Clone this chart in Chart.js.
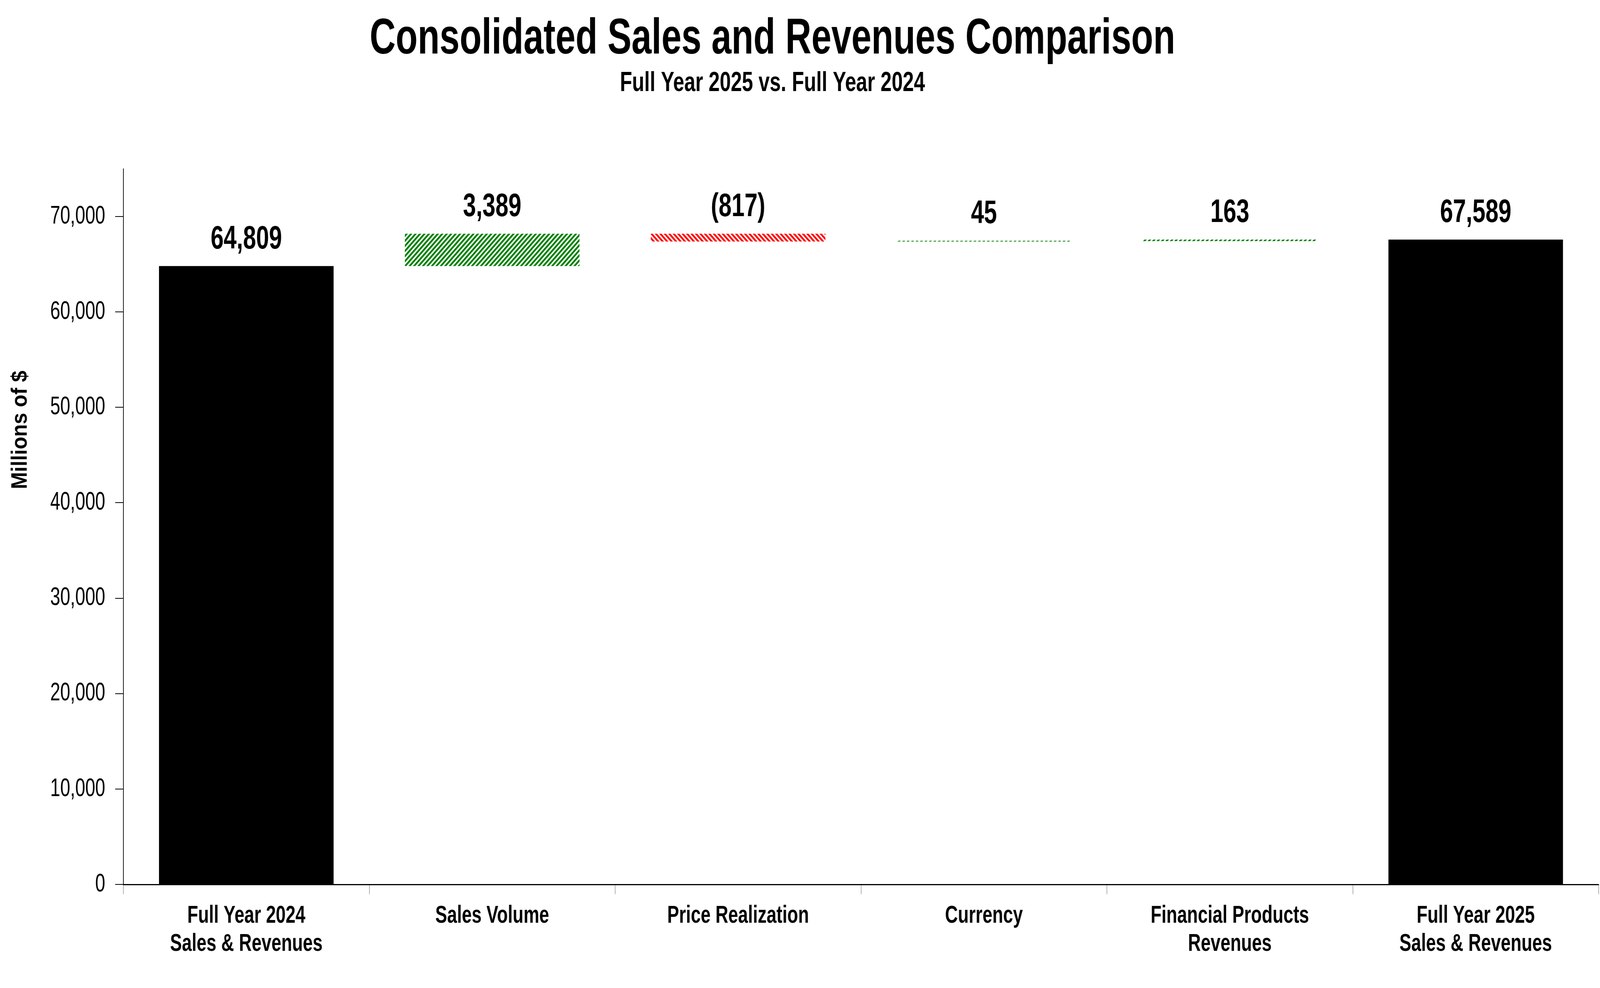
<!DOCTYPE html>
<html>
<head>
<meta charset="utf-8">
<script src="https://cdn.jsdelivr.net/npm/chart.js@4.4.1/dist/chart.umd.min.js"></script>
<style>
  html, body { margin: 0; padding: 0; background: #ffffff; overflow: hidden; }
  #c { display: block; }
</style>
</head>
<body>
<canvas id="c" width="4669" height="2528"></canvas>
<script>
// ---- Data ----
const categories = [
  ['Full Year 2024', 'Sales & Revenues'],
  ['Sales Volume'],
  ['Price Realization'],
  ['Currency'],
  ['Financial Products', 'Revenues'],
  ['Full Year 2025', 'Sales & Revenues']
];
const startValue = 64809;
const changes = [3389, -817, 45, 163];
const endValue = 67589;
const valueLabels = ['64,809', '3,389', '(817)', '45', '163', '67,589'];
const yTicks = [0, 10000, 20000, 30000, 40000, 50000, 60000, 70000];
const titleText = 'Consolidated Sales and Revenues Comparison';
const subtitleText = 'Full Year 2025 vs. Full Year 2024';
const yAxisTitle = 'Millions of $';

// ---- Build floating bar ranges ----
const ranges = [[0, startValue]];
let running = startValue;
changes.forEach(c => {
  const next = running + c;
  ranges.push([Math.min(running, next), Math.max(running, next)]);
  running = next;
});
ranges.push([0, endValue]);

const W = 4669, H = 2528;
const FONT = '"Liberation Sans", Arial, sans-serif';
const NARROW = 0.82;

const canvas = document.getElementById('c');

function hatch(color, upward) {
  const s = 13, w = 7;
  const t = document.createElement('canvas');
  t.width = s; t.height = s;
  const g = t.getContext('2d');
  g.fillStyle = color;
  for (let y = 0; y < s; y++) {
    for (let x = 0; x < s; x++) {
      const k = upward ? (x + y) % s : ((x - y) % s + s) % s;
      if (k < w) g.fillRect(x, y, 1, 1);
    }
  }
  return canvas.getContext('2d').createPattern(t, 'repeat');
}
const greenHatch = hatch('#008000', true);
const redHatch = hatch('#ff0000', false);

const colors = ranges.map((r, i) => {
  if (i === 0 || i === ranges.length - 1) return '#000000';
  return changes[i - 1] < 0 ? redHatch : greenHatch;
});

function drawText(ctx, text, x, y, size, bold, align, baseline, rotate) {
  ctx.save();
  ctx.translate(x, y);
  if (rotate) ctx.rotate(rotate);
  ctx.scale(NARROW, 1);
  ctx.font = (bold ? 'bold ' : '') + size + 'px ' + FONT;
  ctx.fillStyle = '#000';
  ctx.textAlign = align;
  ctx.textBaseline = baseline;
  ctx.fillText(text, 0, 0);
  ctx.restore();
}

const overlay = {
  id: 'overlay',
  afterDatasetsDraw(chart) {
    const ctx = chart.ctx;
    const meta = chart.getDatasetMeta(0);
    meta.data.forEach((el, i) => {
      const top = Math.min(el.y, el.base);
      drawText(ctx, valueLabels[i], el.x, top - 68, 83, true, 'center', 'middle');
    });
  },
  afterDraw(chart) {
    const ctx = chart.ctx;
    const xs = chart.scales.x, ys = chart.scales.y;
    drawText(ctx, titleText, 2254, 137, 128, true, 'center', 'alphabetic');
    drawText(ctx, subtitleText, 2254, 233, 71, true, 'center', 'alphabetic');
    drawText(ctx, yAxisTitle, 60, 1100, 64, true, 'center', 'middle', -Math.PI / 2);
    yTicks.forEach(v => {
      drawText(ctx, v.toLocaleString('en-US'), ys.left + ys.width - 53, ys.getPixelForValue(v), 64, false, 'right', 'middle');
    });
    categories.forEach((lines, i) => {
      const x = xs.getPixelForValue(i);
      lines.forEach((ln, j) => {
        drawText(ctx, ln, x, xs.top + 81 + j * 72, 63, true, 'center', 'middle');
      });
    });
  }
};

new Chart(canvas, {
  type: 'bar',
  data: {
    labels: categories.map(l => l.join(' ')),
    datasets: [{
      data: ranges,
      backgroundColor: colors,
      borderWidth: 0,
      barPercentage: 0.71,
      categoryPercentage: 1.0,
      minBarLength: 2
    }]
  },
  options: {
    responsive: false,
    animation: false,
    devicePixelRatio: 1,
    layout: { padding: { top: 432, right: 4, left: 0, bottom: 0 } },
    plugins: {
      legend: { display: false },
      tooltip: { enabled: false },
      title: { display: false }
    },
    scales: {
      x: {
        grid: { offset: true, drawOnChartArea: false, tickLength: 25, color: '#a6a6a6', lineWidth: 2 },
        border: { color: '#000', width: 3 },
        ticks: { display: false },
        afterFit(s) { s.height = 265; }
      },
      y: {
        min: 0,
        max: 75000,
        afterBuildTicks(s) { s.ticks = yTicks.map(v => ({ value: v })); },
        ticks: { display: false },
        grid: { drawOnChartArea: false, tickLength: 24, color: '#000', lineWidth: 2 },
        border: { color: '#000', width: 2 },
        afterFit(s) { s.width = 360; }
      }
    }
  },
  plugins: [overlay]
});

// Fill the actual browser window (which may be narrower than 4669px).
canvas.style.width = (window.innerWidth || W) + 'px';
canvas.style.height = (window.innerHeight || H) + 'px';
</script>
</body>
</html>
